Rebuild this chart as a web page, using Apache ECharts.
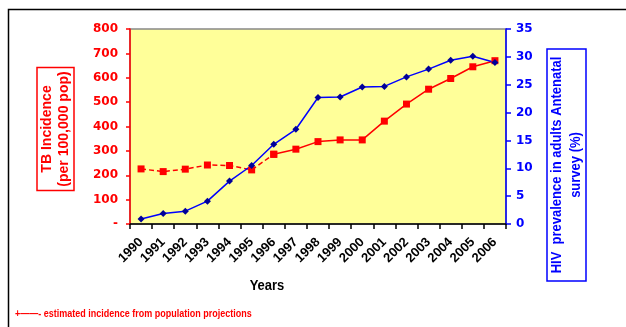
<!DOCTYPE html>
<html>
<head>
<meta charset="utf-8">
<script src="https://cdn.jsdelivr.net/npm/echarts@6/dist/echarts.min.js"></script>
<style>
  html, body { margin: 0; padding: 0; background: #fff; }
  #chart { width: 626px; height: 327px; }
</style>
</head>
<body>
<div id="chart"></div>
<script>
// Years on the category axis
const years = ['1990','1991','1992','1993','1994','1995','1996','1997','1998',
               '1999','2000','2001','2002','2003','2004','2005','2006'];

// TB incidence per 100,000 population (left axis)
const tbIncidence = [226, 215, 225, 242, 240, 222, 286, 307, 338,
                     345, 345, 422, 492, 553, 597, 645, 670];

// HIV prevalence among antenatal survey adults, % (right axis)
const hivPrevalence = [0.9, 1.9, 2.3, 4.1, 7.7, 10.5, 14.3, 17.0, 22.7,
                       22.8, 24.6, 24.7, 26.4, 27.8, 29.4, 30.1, 29.0];

// Years 1990-1996 are projection-based estimates (drawn dashed)
const estimatedUntil = 6;

const tbEstimated = tbIncidence.map((v, i) => i <= estimatedUntil ? v : null);
const tbObserved = tbIncidence.map((v, i) => i >= estimatedUntil ? v : null);

const RED = '#ff0000';
const BLUE = '#0000ff';
const FONT = 'Liberation Sans, Arial, sans-serif';
const WIDE = 'DejaVu Sans, Verdana, sans-serif';

const chart = echarts.init(document.getElementById('chart'));

chart.setOption({
  animation: false,
  backgroundColor: '#ffffff',
  grid: {
    left: 130, right: 120, top: 29, bottom: 103,
    show: true,
    backgroundColor: '#ffff99',
    borderColor: '#888888',
    borderWidth: 1.5
  },
  xAxis: {
    type: 'category',
    data: years,
    boundaryGap: true,
    axisLine: { lineStyle: { color: '#000', width: 1.5 } },
    axisTick: { show: true, length: 5, lineStyle: { color: '#000', width: 1.5 } },
    axisLabel: {
      rotate: 45, color: '#000', fontFamily: FONT, fontWeight: 'bold',
      fontSize: 13, margin: 16, interval: 0
    },
    splitLine: { show: false }
  },
  yAxis: [
    {
      type: 'value', min: 0, max: 800, interval: 100, position: 'left',
      axisLine: { show: true, lineStyle: { color: RED, width: 1.5 } },
      axisTick: { show: true, length: 4, lineStyle: { color: RED, width: 1.5 } },
      axisLabel: {
        color: RED, fontFamily: WIDE, fontWeight: 'bold', fontSize: 12, margin: 12,
        formatter: v => v === 0 ? '-' : String(v)
      },
      splitLine: { show: false }
    },
    {
      type: 'value', min: 0, max: 35, interval: 5, position: 'right',
      axisLine: { show: true, lineStyle: { color: BLUE, width: 1.5 } },
      axisTick: { show: true, length: 5, lineStyle: { color: BLUE, width: 1.5 } },
      axisLabel: {
        color: BLUE, fontFamily: WIDE, fontWeight: 'bold', fontSize: 12, margin: 10
      },
      splitLine: { show: false }
    }
  ],
  series: [
    {
      name: 'TB incidence (estimated)',
      type: 'line', yAxisIndex: 0, data: tbEstimated,
      symbol: 'rect', symbolSize: 7,
      lineStyle: { color: RED, width: 1.5, type: [5, 3] },
      itemStyle: { color: RED },
      connectNulls: false
    },
    {
      name: 'TB incidence',
      type: 'line', yAxisIndex: 0, data: tbObserved,
      symbol: 'rect', symbolSize: 7,
      lineStyle: { color: RED, width: 1.5 },
      itemStyle: { color: RED },
      connectNulls: false
    },
    {
      name: 'HIV prevalence',
      type: 'line', yAxisIndex: 1, data: hivPrevalence,
      symbol: 'diamond', symbolSize: 7,
      lineStyle: { color: BLUE, width: 1.5 },
      itemStyle: { color: '#000099' }
    }
  ],
  graphic: [
    // outer frame
    {
      type: 'rect', silent: true, z: -1,
      shape: { x: 8.5, y: 9.5, width: 700, height: 400 },
      style: { fill: 'none', stroke: '#000', lineWidth: 1.5 }
    },
    // left axis title box
    {
      type: 'group', x: 55.5, y: 129, rotation: Math.PI / 2,
      children: [
        {
          type: 'rect',
          shape: { x: -61.5, y: -18.5, width: 123, height: 37 },
          style: { fill: '#fff', stroke: RED, lineWidth: 1.5 }
        },
        {
          type: 'text', x: 0, y: 0, scaleX: 1.08, scaleY: 1.15,
          style: {
            text: 'TB Incidence\n(per 100,000 pop)',
            fill: RED, font: 'bold 13px ' + FONT,
            align: 'center', verticalAlign: 'middle', lineHeight: 15
          }
        }
      ]
    },
    // right axis title box
    {
      type: 'group', x: 566.5, y: 165, rotation: Math.PI / 2,
      children: [
        {
          type: 'rect',
          shape: { x: -116, y: -19.5, width: 232, height: 39 },
          style: { fill: '#fff', stroke: BLUE, lineWidth: 1.5 }
        },
        {
          type: 'text', x: 0, y: 0, scaleY: 1.15,
          style: {
            text: 'HIV  prevalence in adults Antenatal\nsurvey (%)',
            fill: BLUE, font: 'bold 13px ' + FONT,
            align: 'center', verticalAlign: 'middle', lineHeight: 16
          }
        }
      ]
    },
    // x axis title
    {
      type: 'text', x: 267, y: 286, scaleY: 1.15,
      style: {
        text: 'Years', fill: '#000', font: 'bold 13px ' + FONT,
        align: 'center', verticalAlign: 'middle'
      }
    },
    // note on the dashed segment
    {
      type: 'text', x: 15, y: 314, scaleY: 1.2,
      style: {
        text: '+——- estimated incidence from population projections',
        fill: RED, font: 'bold 9px ' + FONT,
        align: 'left', verticalAlign: 'middle'
      }
    }
  ]
});
</script>
</body>
</html>
